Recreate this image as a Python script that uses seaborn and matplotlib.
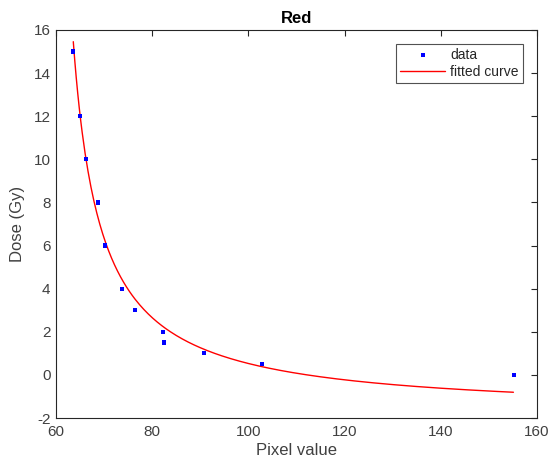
import numpy as np
import pandas as pd
import seaborn as sns
from matplotlib import pyplot as plt

# values
pixel = [63.5, 65.0, 66.2, 68.7, 70.2, 73.7, 76.4, 82.2, 82.5, 90.8, 102.8, 155.2]
dose = [15, 12, 10, 8, 6, 4, 3, 2, 1.5, 1.0, 0.5, 0]

# fitted curve: dose = a / (pixel - b) + c
fit_a, fit_b, fit_c = 99.2, 57.86, -1.825
fit_start, fit_end = 63.6, 155.1

df = pd.DataFrame({'pixel': pixel, 'dose': dose})
xs = np.linspace(fit_start, fit_end, 300)
fit = pd.DataFrame({'pixel': xs, 'dose': fit_a / (xs - fit_b) + fit_c})

sns.set_style('white')
plt.rcParams['font.family'] = ['Liberation Sans', 'DejaVu Sans']
plt.rcParams['axes.unicode_minus'] = False

fig = plt.figure(figsize=(5.52, 4.67), dpi=100)
ax = fig.add_axes([0.1014, 0.1049, 0.8714, 0.8309])

sns.scatterplot(data=df, x='pixel', y='dose', ax=ax, marker='s', s=9, color='blue',
                edgecolor='none', label='data', zorder=3)
sns.lineplot(data=fit, x='pixel', y='dose', ax=ax, color='red', linewidth=1, label='fitted curve')

ax.set_xlim(60, 160)
ax.set_ylim(-2, 16)
ax.set_xticks(range(60, 161, 20))
ax.set_yticks(range(-2, 17, 2))
ax.tick_params(direction='in', top=True, right=True, length=4, width=0.8,
               colors='#262626', labelcolor='#404040', labelsize=11)
ax.tick_params(axis='x', pad=5)
ax.tick_params(axis='y', pad=4)
for s in ax.spines.values():
    s.set_color('#262626')
    s.set_linewidth(0.8)
ax.set_xlabel('Pixel value', fontsize=12, color='#404040', labelpad=3)
ax.set_ylabel('Dose (Gy)', fontsize=12, color='#404040', labelpad=6)
ax.set_title('Red', fontsize=12, fontweight='bold', color='black', pad=5)

leg = ax.legend(loc='upper right', fontsize=10, frameon=True, fancybox=False,
                edgecolor='#262626', borderaxespad=1.0, handlelength=3.2,
                handletextpad=0.4, borderpad=0.3, labelspacing=0.2)
leg.get_frame().set_linewidth(0.8)
for t in leg.get_texts():
    t.set_color('#262626')

plt.savefig('out.png', dpi=100)
